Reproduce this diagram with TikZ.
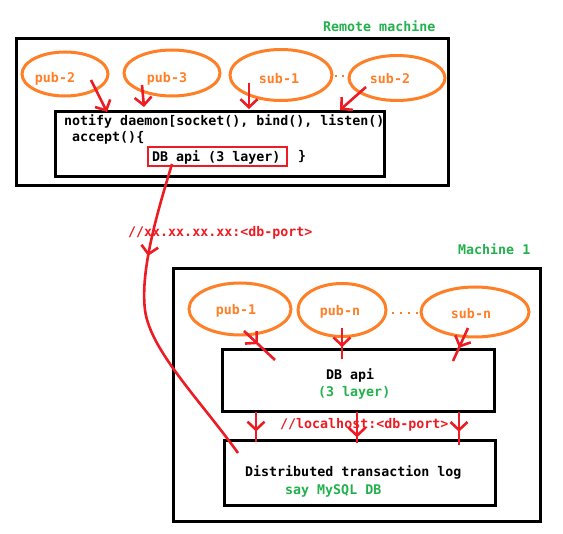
\documentclass[tikz,border=0pt]{standalone}
\usepackage{fontspec}
\setmonofont{DejaVu Sans Mono}
\usetikzlibrary{arrows.meta,decorations.markings,shapes.geometric}
\definecolor{pred}{RGB}{237,28,36}
\definecolor{porange}{RGB}{255,127,39}
\definecolor{pgreen}{RGB}{34,177,76}
\tikzset{
  txt/.style={font=\ttfamily\bfseries\fontsize{13.3}{14}\selectfont, inner sep=0pt, anchor=west},
  box/.style={draw=black, line width=3pt},
  oval/.style={draw=porange, line width=3pt, ellipse},
  conn/.style={draw=pred, line width=2.6pt},
  vtip/.style={-{Straight Barb[length=8pt,width=17pt,line width=2.6pt]}},
  midv/.style={postaction={decorate}, decoration={markings, mark=at position #1 with {\arrow{Straight Barb[length=8pt,width=17pt,line width=2.6pt]}}}},
  dotm/.style={fill=porange, minimum size=2.5pt, inner sep=0pt, rectangle}
}
\begin{document}
\begin{tikzpicture}[x=1pt,y=-1pt]
\useasboundingbox (0,0) rectangle (563,534);
\fill[white] (0,0) rectangle (563,534);

% Remote machine
\node[txt, text=pgreen] (lremote) at (323,26) {Remote machine};
\draw[box] (16,39) rectangle (448,186);
\node[box, minimum width=329pt, minimum height=65pt, inner sep=0pt] (daemon) at (219.5,144.5) {};
\node[txt] (tnotify) at (64,121) {notify daemon[socket(), bind(), listen()};
\node[txt] (taccept) at (72,138) {accept()\{};
\node[draw=pred, line width=2.5pt, minimum width=139pt, minimum height=19pt, inner sep=0pt] (dbr) at (217.5,156.5) {};
\node[txt] (tdbr) at (152,157) {DB api (3 layer)};
\node[txt] (tbrace) at (298,157) {\}};

\node[oval, minimum width=86pt, minimum height=44pt] (pub2) at (65,74) {};
\node[txt, anchor=center, text=porange] at (55,79) {pub-2};
\node[oval, minimum width=96pt, minimum height=46pt] (pub3) at (172,73) {};
\node[txt, anchor=center, text=porange] at (167,79) {pub-3};
\node[oval, minimum width=102pt, minimum height=51pt] (sub1) at (281,75) {};
\node[txt, anchor=center, text=porange] at (279,79) {sub-1};
\node[oval, minimum width=96pt, minimum height=45pt] (sub2) at (397,78) {};
\node[txt, anchor=center, text=porange] at (390,79) {sub-2};
\node[dotm] (d1) at (336,76) {};
\node[dotm] (d2) at (343,76) {};

\coordinate (a1s) at (91,80);   \coordinate (a1e) at (107,112);
\coordinate (a2s) at (142,85);  \coordinate (a2e) at (144,107);
\coordinate (a3s) at (249,83);  \coordinate (a3e) at (249,109);
\coordinate (a4s) at (366,87);  \coordinate (a4e) at (340,110);
\draw[conn, vtip] (a1s) -- (a1e);
\draw[conn, vtip] (a2s) -- (a2e);
\draw[conn, vtip] (a3s) -- (a3e);
\draw[conn, vtip] (a4s) -- (a4e);

% Machine 1
\node[txt, text=pgreen] (lm1) at (458,249) {Machine 1};
\draw[box] (173,269) rectangle (540,522);
\node[box, minimum width=272pt, minimum height=62pt, inner sep=0pt] (dbapi) at (358,381) {};
\node[txt] at (326,375) {DB api};
\node[txt, text=pgreen] at (318,393) {(3 layer)};
\node[box, minimum width=271pt, minimum height=65pt, inner sep=0pt] (dlog) at (359.5,473.5) {};
\node[txt] at (245,472) {Distributed transaction log};
\node[txt, text=pgreen] at (285,491) {say MySQL DB};

\node[oval, minimum width=102pt, minimum height=52pt] (pub1) at (240,309) {};
\node[txt, anchor=center, text=porange] at (236,311) {pub-1};
\node[oval, minimum width=88pt, minimum height=53pt] (pubn) at (342,310) {};
\node[txt, anchor=center, text=porange] at (340,312) {pub-n};
\node[oval, minimum width=108pt, minimum height=50pt] (subn) at (475,312) {};
\node[txt, anchor=center, text=porange] at (471,314) {sub-n};
\foreach \i/\xx in {1/393,2/401,3/409,4/417} \node[dotm] (e\i) at (\xx,313) {};

\coordinate (b1s) at (244,331); \coordinate (b1e) at (275,360);
\coordinate (b2s) at (342,328); \coordinate (b2e) at (342,359);
\coordinate (b3s) at (468,328); \coordinate (b3e) at (453,361);
\draw[conn, midv=0.45] (b1s) -- (b1e);
\draw[conn, midv=0.62] (b2s) -- (b2e);
\draw[conn, midv=0.6] (b3s) -- (b3e);

\coordinate (c1s) at (256,412); \coordinate (c1e) at (256,442);
\coordinate (c2s) at (357,412); \coordinate (c2e) at (357,443);
\coordinate (c3s) at (459,412); \coordinate (c3e) at (459,445);
\draw[conn, midv=0.65] (c1s) -- (c1e);
\draw[conn, midv=0.82] (c2s) -- (c2e);
\draw[conn, midv=0.6] (c3s) -- (c3e);
\node[txt, text=pred] (tlocal) at (280,425) {//localhost:<db-port>};

% remote link
\coordinate (r0) at (172,164);
\coordinate (r1) at (145,310);
\coordinate (r2) at (238,453);
\draw[conn, midv=95pt] (r0) .. controls (158,210) and (140,270) .. (r1) .. controls (150,350) and (200,400) .. (r2);
\node[txt, text=pred] (tremote) at (128,233) {//xx.xx.xx.xx:<db-port>};
\end{tikzpicture}
\end{document}
